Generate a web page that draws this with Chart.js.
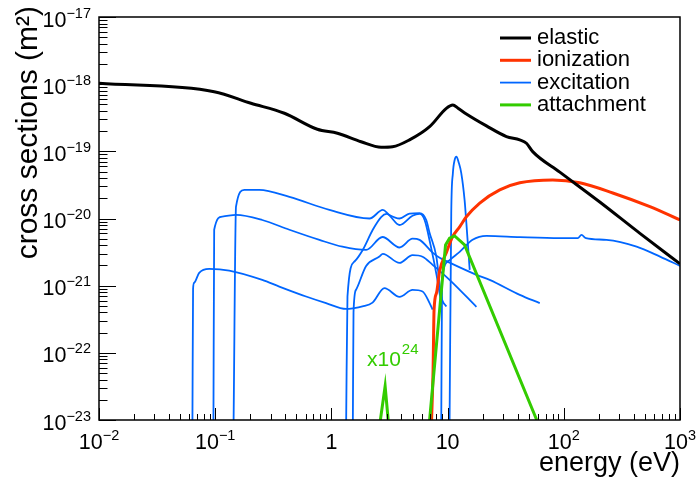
<!DOCTYPE html>
<html>
<head>
<meta charset="utf-8">
<script src="https://cdn.jsdelivr.net/npm/chart.js@4.4.0/dist/chart.umd.min.js"></script>
<style>
  html, body { margin: 0; padding: 0; background: #fff; }
  #wrap { width: 696px; height: 481px; }
</style>
</head>
<body>
<div id="wrap"><canvas id="xsChart" width="696" height="481"></canvas></div>
<script>
// energies in eV, cross sections in m^2
var elasticE  = [0.01, 0.098, 0.203, 0.394, 0.757, 1.127, 1.80, 2.68, 3.36, 4.70, 7.0, 9.75, 11.1, 12.3, 14.5, 21.6, 32.1, 41.8, 47.7, 54.0, 92.4, 204, 452, 1000];
var elasticXS = [1.03e-18, 7.73e-19, 5.2e-19, 3.69e-19, 2.13e-19, 1.86e-19, 1.39e-19, 1.15e-19, 1.17e-19, 1.48e-19, 2.33e-19, 4.37e-19, 4.9e-19, 4.37e-19, 3.6e-19, 2.39e-19, 1.66e-19, 1.48e-19, 1.32e-19, 9.9e-20, 4.9e-20, 1.76e-20, 6.0e-21, 2.11e-21];

var ionE  = [7.28, 7.5, 7.65, 8.03, 8.54, 9.75, 11.0, 12.7, 14.5, 18.9, 28.1, 41.8, 80.4, 137, 264, 551, 1000];
var ionXS = [1e-23, 5.6e-23, 4.4e-22, 7.8e-22, 1.66e-21, 3.1e-21, 5.3e-21, 7.5e-21, 1.06e-20, 1.7e-20, 2.67e-20, 3.4e-20, 3.75e-20, 3.4e-20, 2.4e-20, 1.5e-20, 9.5e-21];

var attE  = [7.0, 9.6, 10.4, 11.5, 14.0, 58.5];
var attXS = [1e-23, 4.05e-21, 5.1e-21, 5.5e-21, 4.05e-21, 1e-23];
// low energy attachment, scaled x10^24
var attLowE  = [2.64, 2.90, 3.08];
var attLowXS = [1e-23, 3.2e-23, 1e-23];

var exc1E  = [0.0637, 0.0645, 0.0659, 0.0728, 0.0888, 0.132, 0.254, 0.356, 0.605, 0.9, 1.34, 1.53, 1.85, 2.26, 2.86, 3.86, 4.99, 6.09, 7.0, 7.43];
var exc1XS = [1e-23, 9e-22, 1.1e-21, 1.55e-21, 1.78e-21, 1.68e-21, 1.22e-21, 9.7e-22, 6.9e-22, 5.5e-22, 4.5e-22, 4.6e-22, 4.9e-22, 5.6e-22, 9.2e-22, 6.8e-22, 8.65e-22, 8.2e-22, 5.5e-22, 4.4e-22];

var exc2E  = [0.0966, 0.098, 0.115, 0.151, 0.254, 0.435, 0.789, 1.245, 1.99, 2.75, 3.86, 4.99, 5.74, 7.43, 8.54, 10.4, 17.7, 23.0, 41.8, 62.1];
var exc2XS = [1e-23, 6.8e-21, 1.07e-20, 1.13e-20, 9.5e-21, 6.8e-21, 4.8e-21, 3.8e-21, 3.4e-21, 5.3e-21, 3.7e-21, 5.0e-21, 4.8e-21, 3.1e-21, 2.6e-21, 2.2e-21, 1.45e-21, 1.22e-21, 7.3e-22, 5.5e-22];

var exc3E  = [0.144, 0.151, 0.178, 0.239, 0.435, 0.962, 2.13, 2.77, 3.16, 3.86, 4.7, 5.74, 6.55, 7.0, 8.0, 8.82, 9.75];
var exc3XS = [1e-23, 1.5e-20, 2.67e-20, 2.67e-20, 2.1e-20, 1.34e-20, 1.0e-20, 1.34e-20, 1.13e-20, 1.0e-20, 1.18e-20, 1.2e-20, 9.5e-21, 6.1e-21, 2.7e-21, 6.9e-22, 4.9e-22];

var exc4E  = [1.34, 1.375, 1.58, 1.86, 2.27, 2.68, 2.98, 3.86, 4.99, 5.74, 6.34, 7.13, 8.03, 8.71];
var exc4XS = [1e-23, 6.9e-22, 2.29e-21, 3.4e-21, 6.8e-21, 1.05e-20, 1.17e-20, 8.0e-21, 1.1e-20, 1.17e-20, 9.5e-21, 4.05e-21, 1.45e-21, 6.2e-22];

var exc5E  = [1.53, 1.55, 1.63, 1.99, 2.59, 2.77, 3.86, 4.99, 6.09, 7.43, 10.4, 17.7];
var exc5XS = [1e-23, 4e-22, 8.7e-22, 1.97e-21, 2.71e-21, 2.97e-21, 2.18e-21, 2.85e-21, 2.7e-21, 2.04e-21, 1.22e-21, 4.84e-22];

var exc6E  = [8.82, 8.95, 9.1, 10.4, 12.7, 16.4, 21.6, 41.8, 92.4, 132, 142, 155, 233, 423, 673, 1000];
var exc6XS = [1e-23, 8e-22, 1.53e-21, 2.4e-21, 3.18e-21, 4.81e-21, 5.5e-21, 5.27e-21, 5.1e-21, 5.1e-21, 5.7e-21, 5.1e-21, 4.81e-21, 3.82e-21, 2.71e-21, 1.97e-21];

var exc7E  = [10.4, 10.75, 11.1, 11.5, 11.9, 12.5, 13.1, 14.0, 14.5, 15.5];
var exc7XS = [1e-23, 1.2e-20, 4.7e-20, 7.44e-20, 8.34e-20, 6.7e-20, 4.78e-20, 1.89e-20, 8.6e-21, 1.72e-21];

// tick decades (powers of ten) for both axes
var xDecades = [-2, -1, 0, 1, 2, 3];
var yDecades = [-23, -22, -21, -20, -19, -18, -17];

var BLACK = '#000000', RED = '#ff3300', BLUE = '#0066ff', GREEN = '#33cc00';
var FONT = '"Liberation Sans", Arial, Helvetica, sans-serif';

function pts(e, s) {
    return e.map(function(v, i) { return { x: v, y: s[i] }; });
}

function excSet(e, s) {
    return { label: 'excitation', data: pts(e, s), borderColor: BLUE, borderWidth: 1.8,
             showLine: true, pointRadius: 0, cubicInterpolationMode: 'monotone' };
}

// "10" + raised exponent, ROOT style
function drawPow(ctx, p, x, base, align) {
    var expo = String(p).replace('-', '\u2212');
    ctx.font = '21.5px ' + FONT;
    var wb = ctx.measureText('10').width;
    ctx.font = '14.5px ' + FONT;
    var we = ctx.measureText(expo).width;
    var left = align === 'right' ? x - wb - we : x - (wb + we) / 2;
    ctx.textAlign = 'left';
    ctx.textBaseline = 'alphabetic';
    ctx.font = '21.5px ' + FONT;
    ctx.fillText('10', left, base);
    ctx.font = '14.5px ' + FONT;
    ctx.fillText(expo, left + wb, base - 9);
}

var decorations = {
    id: 'decorations',
    afterDraw: function(chart) {
        var ctx = chart.ctx, a = chart.chartArea;
        var xs = chart.scales.x, ys = chart.scales.y;
        ctx.save();
        ctx.strokeStyle = '#000';
        ctx.lineWidth = 1;
        ctx.beginPath();
        xDecades.forEach(function(p) {
            for (var m = 1; m <= 9; m++) {
                var v = m * Math.pow(10, p);
                if (v > 1000) break;
                var px = Math.round(xs.getPixelForValue(v)) + 0.5;
                ctx.moveTo(px, a.bottom);
                ctx.lineTo(px, a.bottom - (m === 1 ? 12 : 6));
            }
        });
        yDecades.forEach(function(p) {
            for (var m = 1; m <= 9; m++) {
                var v = m * Math.pow(10, p);
                if (v > 1.01e-17) break;
                var py = Math.round(ys.getPixelForValue(v)) + 0.5;
                ctx.moveTo(a.left, py);
                ctx.lineTo(a.left + (m === 1 ? 17 : 8.5), py);
            }
        });
        ctx.stroke();

        ctx.lineWidth = 1.5;
        ctx.strokeRect(a.left, a.top, a.right - a.left, a.bottom - a.top);

        // tick labels
        ctx.fillStyle = '#000';
        xDecades.forEach(function(p) {
            var px = xs.getPixelForValue(Math.pow(10, p));
            if (p === 0 || p === 1) {
                ctx.font = '21.5px ' + FONT;
                ctx.textAlign = 'center';
                ctx.textBaseline = 'alphabetic';
                ctx.fillText(p === 0 ? '1' : '10', px, 449);
            } else {
                drawPow(ctx, p, px, 449, 'center');
            }
        });
        yDecades.forEach(function(p) {
            var py = ys.getPixelForValue(Math.pow(10, p));
            drawPow(ctx, p, 91, py + 9.5, 'right');
        });

        // axis titles
        ctx.textAlign = 'right';
        ctx.textBaseline = 'alphabetic';
        ctx.font = '27px ' + FONT;
        ctx.fillText('energy (eV)', a.right, 471);
        ctx.save();
        ctx.translate(37, 6);
        ctx.rotate(-Math.PI / 2);
        ctx.font = '30px ' + FONT;
        ctx.fillText('cross sections (m\u00B2)', 0, 0);
        ctx.restore();

        // legend
        var rows = [['elastic', BLACK, 3], ['ionization', RED, 3], ['excitation', BLUE, 1.8], ['attachment', GREEN, 3]];
        ctx.font = '22px ' + FONT;
        ctx.textAlign = 'left';
        ctx.textBaseline = 'middle';
        rows.forEach(function(r, i) {
            var y = 38 + i * 22.3;
            ctx.strokeStyle = r[1];
            ctx.lineWidth = r[2];
            ctx.beginPath();
            ctx.moveTo(500, y);
            ctx.lineTo(531, y);
            ctx.stroke();
            ctx.fillStyle = '#000';
            ctx.fillText(r[0], 537, y);
        });

        // scale note for the low-energy attachment peak
        ctx.fillStyle = GREEN;
        ctx.textBaseline = 'alphabetic';
        ctx.font = '21px ' + FONT;
        ctx.fillText('x10', 367, 366);
        var w = ctx.measureText('x10').width;
        ctx.font = '15px ' + FONT;
        ctx.fillText('24', 367 + w + 1, 354);
        ctx.restore();
    }
};

new Chart(document.getElementById('xsChart').getContext('2d'), {
    type: 'scatter',
    data: {
        datasets: [
            { label: 'elastic', data: pts(elasticE, elasticXS), borderColor: BLACK, borderWidth: 3,
              showLine: true, pointRadius: 0, cubicInterpolationMode: 'monotone' },
            { label: 'attachment', data: pts(attE, attXS), borderColor: GREEN, borderWidth: 3,
              showLine: true, pointRadius: 0 },
            { label: 'attachment x10^24', data: pts(attLowE, attLowXS), borderColor: GREEN, borderWidth: 3,
              showLine: true, pointRadius: 0 },
            { label: 'ionization', data: pts(ionE, ionXS), borderColor: RED, borderWidth: 3,
              showLine: true, pointRadius: 0, cubicInterpolationMode: 'monotone' },
            excSet(exc1E, exc1XS),
            excSet(exc2E, exc2XS),
            excSet(exc3E, exc3XS),
            excSet(exc4E, exc4XS),
            excSet(exc5E, exc5XS),
            excSet(exc6E, exc6XS),
            excSet(exc7E, exc7XS)
        ]
    },
    options: {
        responsive: false,
        devicePixelRatio: 1,
        animation: false,
        layout: { padding: { top: 17, right: 16, left: 0, bottom: 0 } },
        plugins: { legend: { display: false }, tooltip: { enabled: false } },
        scales: {
            x: {
                type: 'logarithmic', min: 0.01, max: 1000,
                grid: { display: false }, border: { display: false },
                ticks: { display: false },
                afterFit: function(s) { s.height = 61; }
            },
            y: {
                type: 'logarithmic', min: 1e-23, max: 1e-17,
                grid: { display: false }, border: { display: false },
                ticks: { display: false },
                afterFit: function(s) { s.width = 99; }
            }
        }
    },
    plugins: [decorations]
});
</script>
</body>
</html>
